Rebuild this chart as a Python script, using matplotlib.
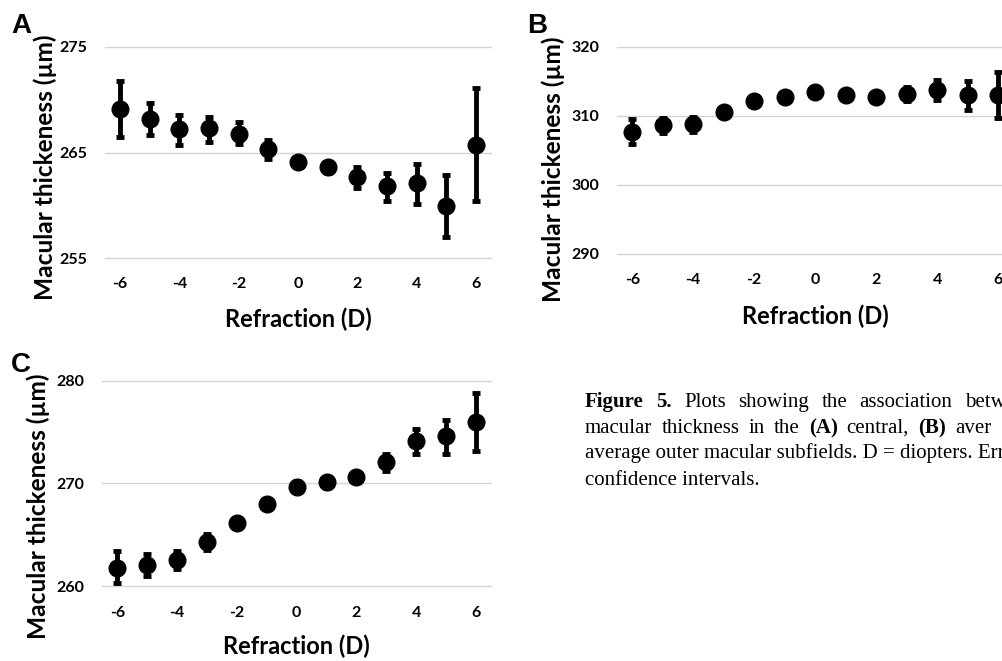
import matplotlib.pyplot as plt
import numpy as np

plt.rcParams['axes.unicode_minus'] = False

# refraction (D) on the x axis
refraction = [-6, -5, -4, -3, -2, -1, 0, 1, 2, 3, 4, 5, 6]

# (A) central subfield: mean and 95% CI
mean_a = [269.1, 268.2, 267.2, 267.3, 266.8, 265.3, 264.1, 263.6, 262.7, 261.8, 262.1, 259.9, 265.7]
low_a = [266.5, 266.7, 265.7, 266.0, 265.8, 264.4, 263.6, 263.1, 261.6, 260.4, 260.1, 257.0, 260.4]
high_a = [271.8, 269.7, 268.6, 268.4, 267.9, 266.2, 264.6, 264.1, 263.6, 263.1, 263.9, 262.9, 271.1]

# (B) average inner subfields
mean_b = [307.7, 308.6, 308.8, 310.6, 312.1, 312.7, 313.5, 313.0, 312.75, 313.1, 313.8, 313.0, 313.0]
low_b = [305.9, 307.5, 307.7, 310.0, 311.5, 312.1, 312.9, 312.4, 312.2, 312.1, 312.3, 310.9, 309.7]
high_b = [309.6, 309.7, 309.8, 311.2, 312.7, 313.3, 314.1, 313.6, 313.3, 314.2, 315.2, 315.1, 316.3]

# (C) average outer subfields
mean_c = [261.8, 262.1, 262.6, 264.3, 266.2, 268.0, 269.7, 270.1, 270.6, 272.1, 274.1, 274.6, 276.0]
low_c = [260.3, 261.0, 261.65, 263.5, 265.7, 267.5, 269.2, 269.6, 270.1, 271.2, 272.9, 272.9, 273.2]
high_c = [263.4, 263.1, 263.4, 265.1, 266.6, 268.5, 270.2, 270.6, 271.1, 272.9, 275.3, 276.2, 278.8]

W, H = 1003, 661
fig = plt.figure(figsize=(W / 100, H / 100), dpi=100)

FONT = 'Lato'


def px_axes(x0, x1, ytop, ybot):
    return fig.add_axes([x0 / W, 1 - ybot / H, (x1 - x0) / W, (ybot - ytop) / H])


def panel(ax, mean, low, high, ylim, label_y, xlab_y):
    mean = np.array(mean)
    yerr = [mean - np.array(low), np.array(high) - mean]
    ax.errorbar(refraction, mean, yerr=yerr, fmt='o', color='black', ms=12,
                elinewidth=3.5, capsize=3, capthick=3.5, clip_on=False, zorder=3)
    ax.set_xlim(-6.5, 6.5)
    ax.set_ylim(*ylim)
    ax.set_xticks(range(-6, 7, 2))
    ax.set_yticks(range(ylim[0], ylim[1] + 1, 10))
    ax.grid(axis='y', color='#d4d4d4', lw=1)
    for g in ax.get_ygridlines():
        g.set_clip_on(False)
    ax.set_axisbelow(True)
    for s in ax.spines.values():
        s.set_visible(False)
    ax.tick_params(length=0, labelsize=11.5, pad=0)
    ax.tick_params(axis='y', pad=13)
    ax.tick_params(axis='x', pad=14)
    for t in ax.get_xticklabels() + ax.get_yticklabels():
        t.set_fontfamily(FONT)
        t.set_fontweight('bold')
    ax.set_ylabel('Macular thickeness (µm)', fontsize=17.6, fontweight='bold', fontfamily=FONT)
    ax.set_xlabel('Refraction (D)', fontsize=17, fontweight='bold', fontfamily=FONT)
    ax.yaxis.set_label_coords(label_y[0], label_y[1])
    ax.xaxis.set_label_coords(0.5, xlab_y)


ax_a = px_axes(105.2, 490.8, 47, 258)
panel(ax_a, mean_a, low_a, high_a, (255, 275), (-0.125, 0.43), -0.235)

ax_b = px_axes(617, 1013.5, 46.7, 254)
panel(ax_b, mean_b, low_b, high_b, (290, 320), (-0.13, 0.41), -0.245)

ax_c = px_axes(102.4, 490.9, 380.7, 586.3)
panel(ax_c, mean_c, low_c, high_c, (260, 280), (-0.135, 0.39), -0.235)

# panel letters
for letter, x, y in [('A', 11, 33), ('B', 527, 33), ('C', 11, 372)]:
    fig.text(x / W, 1 - y / H, letter, fontsize=20, fontweight='bold',
             fontfamily='Liberation Sans', ha='left', va='baseline')

# caption, cut at the right edge as on the page
renderer = fig.canvas.get_renderer()
cap_size = 15


def words_line(words, x0, y, last_x=None):
    # place words one by one, spreading them so the last word starts at last_x
    texts = []
    widths = []
    for w, bold in words:
        t = fig.text(0, 1 - y / H, w, fontsize=cap_size, fontfamily='Liberation Serif',
                     fontweight='bold' if bold else 'normal', va='baseline')
        texts.append(t)
        widths.append(t.get_window_extent(renderer).width)
    if last_x is None:
        gap = 5
    else:
        gap = (last_x - x0 - sum(widths[:-1])) / (len(words) - 1)
    x = x0
    for t, wd in zip(texts, widths):
        t.set_x(x / W)
        x += wd + gap


words_line([('Figure', True), ('5.', True), ('Plots', False), ('showing', False),
            ('the', False), ('association', False), ('betw', False)], 585, 407, 965)
words_line([('macular', False), ('thickness', False), ('in', False), ('the', False),
            ('(A)', True), ('central,', False), ('(B)', True), ('aver', False)], 585, 433, 955)
fig.text(585 / W, 1 - 458 / H, 'average outer macular subfields. D = diopters. Erro',
         fontsize=cap_size, fontfamily='Liberation Serif', va='baseline')
fig.text(585 / W, 1 - 485 / H, 'confidence intervals.',
         fontsize=cap_size, fontfamily='Liberation Serif', va='baseline')

fig.savefig('out.png', dpi=100)
